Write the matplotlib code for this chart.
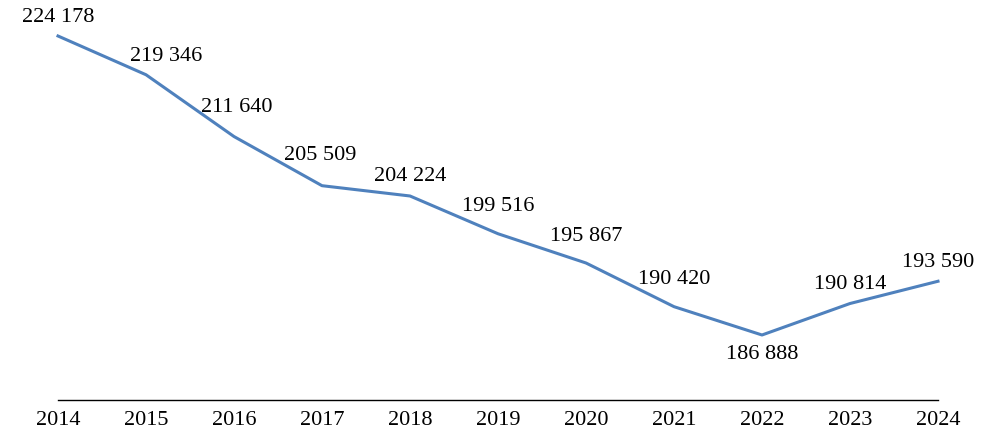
import matplotlib.pyplot as plt

years = [2014, 2015, 2016, 2017, 2018, 2019, 2020, 2021, 2022, 2023, 2024]
values = [224178, 219346, 211640, 205509, 204224, 199516, 195867, 190420, 186888, 190814, 193590]

# label offsets in pixels (dx, dy) relative to each point
offsets = [(0, 19), (20, 18), (3, 29), (-2, 30), (0, 19), (0, 27),
           (0, 26), (0, 27), (0, -20), (0, 19), (0, 19)]

plt.rcParams['font.family'] = ['Liberation Serif', 'DejaVu Serif']

fig = plt.figure(figsize=(9.82, 4.42), dpi=100)
ax = fig.add_axes([58 / 982, (442 - 400) / 442, (938 - 58) / 982, (400 - 36) / 442])

ax.plot(years, values, color='#4F81BD', linewidth=2.2, clip_on=False, solid_joinstyle='round')

for x, v, (dx, dy) in zip(years, values, offsets):
    label = f"{v:,}".replace(',', ' ')
    ax.annotate(label, xy=(x, v), xytext=(dx, dy), textcoords='offset pixels',
                ha='center', va='center', fontsize=16, annotation_clip=False)

ax.set_xlim(2014, 2024)
ax.set_ylim(178780, 224178)
ax.set_xticks(years)
ax.set_xticklabels([str(y) for y in years], fontsize=16)
ax.set_yticks([])
ax.tick_params(axis='x', length=0, pad=8)

for side in ['top', 'right', 'left']:
    ax.spines[side].set_visible(False)
ax.spines['bottom'].set_color('black')
ax.spines['bottom'].set_linewidth(1)

fig.savefig('out.png', dpi=100)
